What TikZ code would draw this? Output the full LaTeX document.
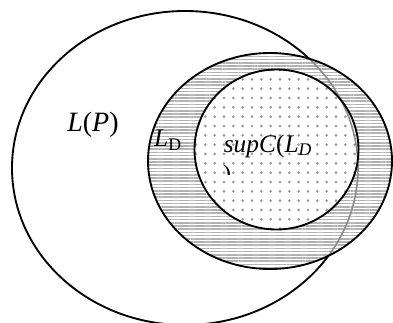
\documentclass[tikz,border=0pt]{standalone}
\usepackage{fontspec}
\setmainfont{Liberation Serif}
\usetikzlibrary{patterns.meta}

\begin{document}
\begin{tikzpicture}[
        x=0.75pt, y=-0.75pt,
        % Define styles for the different sets
        border/.style={draw=black, line width=1.4pt},
        faint/.style={draw=black!45, line width=1.2pt},
        striped/.style={fill=white, pattern={Lines[angle=0, distance=2.4pt, line width=1.1pt]}, pattern color=black!30},
        dotted set/.style={fill=white, pattern={Dots[distance=7pt, radius=1.1pt]}, pattern color=black!40},
        biglabel/.style={font=\fontsize{21}{24}\selectfont, inner sep=0pt},
        label/.style={font=\fontsize{19}{22}\selectfont, inner sep=0pt}
    ]
    \useasboundingbox (0,0) rectangle (393,322);

    % --- Sets ---
    % Outer set L(P)
    \draw [border] (185,168) ellipse [x radius=173, y radius=157];

    % Set L_D
    \fill [white] (270,161) ellipse [x radius=122, y radius=108];
    \fill [striped] (270,161) ellipse [x radius=122, y radius=108];

    % Set supC(L_D)
    \fill [white] (276.5,149.5) ellipse [x radius=82, y radius=80];
    \fill [dotted set] (276.5,149.5) ellipse [x radius=82, y radius=80];

    % Part of L(P) seen through L_D
    \begin{scope}
        \clip (270,161) ellipse [x radius=122, y radius=108];
        \draw [faint] (185,168) ellipse [x radius=173, y radius=157];
    \end{scope}

    \draw [border] (270,161) ellipse [x radius=122, y radius=108];
    \draw [border] (276.5,149.5) ellipse [x radius=82, y radius=80];

    % --- Labels ---
    \node [biglabel] (lp) at (93,125) {\textit{L}(\textit{P})};
    \node [label] (ld) at (168,140) {\textit{L}\textsubscript{D}};
    \node [label] (sup) at (268,146) {\textit{supC}(\textit{L}\textsubscript{\textit{D}}};
    \begin{scope}
        \clip (215,163) rectangle (245,174);
        \node [label] (close) at (227,176) {)};
    \end{scope}

\end{tikzpicture}
\end{document}
